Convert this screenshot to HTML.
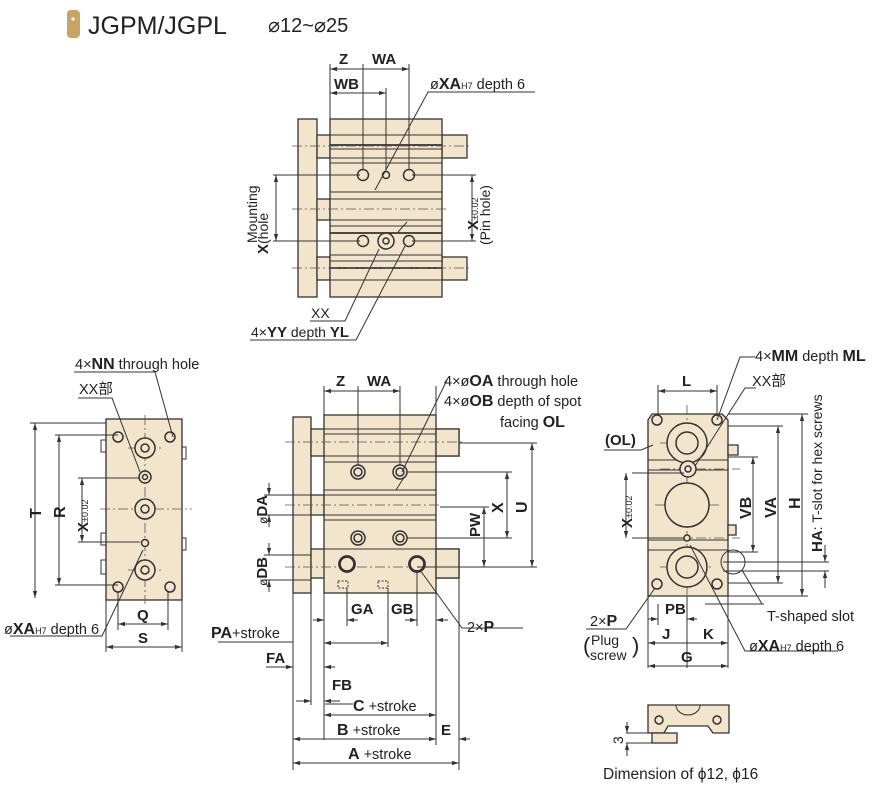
<!DOCTYPE html>
<html><head><meta charset="utf-8"><style>
html,body{margin:0;padding:0;background:#fff}
svg{display:block}
text{font-family:"Liberation Sans","Noto Sans CJK SC",sans-serif;fill:#222}
.b{font-weight:bold}
.f{fill:#f3e4cc;stroke:#333;stroke-width:1.3}
.l{stroke:#333;stroke-width:1;fill:none}
.t{stroke:#333;stroke-width:1.8;fill:none}
.c{stroke:#555;stroke-width:0.8;fill:none;stroke-dasharray:10 3 2 3}
.h{fill:#f3e4cc;stroke:#333;stroke-width:1.5}
</style></head><body>
<svg width="879" height="799" viewBox="0 0 879 799" xmlns="http://www.w3.org/2000/svg">
<defs>
<marker id="a" viewBox="0 0 10 10" refX="10" refY="5" markerWidth="7" markerHeight="7" orient="auto-start-reverse"><path d="M0,2 L10,5 L0,8 z" fill="#333"/></marker>
</defs>
<text x="88" y="34" font-size="25">JGPM/JGPL</text>
<rect x="67" y="10" width="13" height="28" rx="4" fill="#c9a464"/>
<circle cx="73" cy="19" r="1.6" fill="#fff"/>
<text x="268" y="32" font-size="20">⌀12~⌀25</text>

<!-- ============ TOP VIEW ============ -->
<rect class="f" x="298" y="119" width="19" height="178"/>
<rect class="f" x="317" y="135" width="13" height="23"/>
<rect class="f" x="317" y="257" width="13" height="23"/>
<rect class="f" x="317" y="199" width="13" height="21"/>
<rect class="f" x="442" y="135" width="25" height="23"/>
<rect class="f" x="442" y="257" width="25" height="23"/>
<rect class="f" x="330" y="119" width="112" height="178"/>
<g class="l">
<path d="M330 135H442M330 145H442M330 149H442M330 158H442M330 163H442M330 192H442M330 199H442M330 220H442M330 226H442M330 233H442M330 255H442M330 261H442M330 268H442M330 280H442"/>
</g>
<g class="t"><path d="M330 145H442M330 233H442M330 268H442"/></g>
<path class="c" d="M292 146H470M292 209H448M292 268H470"/>
<g class="h"><circle cx="363" cy="175" r="5.5"/><circle cx="409" cy="175" r="5.5"/><circle cx="386" cy="175" r="3.5"/>
<circle cx="363" cy="241" r="5.5"/><circle cx="409" cy="241" r="5.5"/><circle cx="386" cy="241" r="8"/><circle cx="386" cy="241" r="3"/></g>
<g class="l">
<path d="M330 119V64M363 170V64M409 170V64M386 170V88"/>
<path d="M330 69H363M363 69H409" marker-start="url(#a)" marker-end="url(#a)"/>
<path d="M330 93H386" marker-start="url(#a)" marker-end="url(#a)"/>
<path d="M273 175H360M273 241H360M412 175H476M412 241H476"/>
<path d="M276 175V241" marker-start="url(#a)" marker-end="url(#a)"/>
<path d="M472 175V241" marker-start="url(#a)" marker-end="url(#a)"/>
<path d="M375 190L428 92H535" /><path d="M398 232L407 222"/>
<path d="M310 321H345L379 249"/><path d="M250 340H356L405 246"/>
</g>
<text class="b" x="339" y="64" font-size="15">Z</text>
<text class="b" x="372" y="64" font-size="15">WA</text>
<text class="b" x="334" y="89" font-size="15">WB</text>
<text x="430" y="89" font-size="14.5">ø<tspan class="b" font-size="16">XA</tspan><tspan font-size="9">H7</tspan> depth 6</text>
<text transform="translate(268,254) rotate(-90)" font-size="15"><tspan class="b">X</tspan><tspan font-size="14">(hole</tspan></text>
<text transform="translate(257,243) rotate(-90)" font-size="14">Mounting</text>
<text transform="translate(478,230) rotate(-90)" font-size="15"><tspan class="b">X</tspan><tspan font-size="9">±0.02</tspan></text>
<text transform="translate(490,245) rotate(-90)" font-size="14">(Pin hole)</text>
<text x="311" y="318" font-size="14">XX</text>
<text x="251" y="337" font-size="14">4×<tspan class="b" font-size="15">YY</tspan> depth <tspan class="b" font-size="15">YL</tspan></text>

<!-- ============ LEFT VIEW ============ -->
<rect class="f" x="106" y="419" width="76" height="181"/>
<g class="l">
<rect x="101" y="440" width="5" height="12"/><rect x="101" y="533" width="5" height="12"/><rect x="101" y="560" width="5" height="14"/><rect x="182" y="447" width="4" height="12"/><rect x="182" y="538" width="4" height="12"/></g>
<path class="c" d="M145 415V604M100 509H192M128 448H162M128 570H162"/>
<g class="h"><circle cx="118" cy="437" r="5"/><circle cx="170" cy="437" r="5"/><circle cx="118" cy="587" r="5"/><circle cx="170" cy="587" r="5"/>
<circle cx="145" cy="448" r="10"/><circle cx="145" cy="448" r="4"/>
<circle cx="145" cy="477" r="6"/><circle cx="145" cy="477" r="2.5"/>
<circle cx="145" cy="509" r="10"/><circle cx="145" cy="509" r="4"/>
<circle cx="145" cy="543" r="3.5"/>
<circle cx="145" cy="570" r="10"/><circle cx="145" cy="570" r="4"/></g>
<g class="l">
<path d="M30 423H106M55 435H118M78 478H140M78 542H140M55 585H118"/>
<path d="M35 423V598" marker-start="url(#a)" marker-end="url(#a)"/>
<path d="M59 435V585" marker-start="url(#a)" marker-end="url(#a)"/>
<path d="M82 478V542" marker-start="url(#a)" marker-end="url(#a)"/>
<path d="M118 592V630M168 592V630M106 600V652M182 600V652"/>
<path d="M118 624H168" marker-start="url(#a)" marker-end="url(#a)"/>
<path d="M106 647H182" marker-start="url(#a)" marker-end="url(#a)"/>
<path d="M74 372H155L173 437M78 398H112L140 472M10 636H102L143 550"/>
</g>
<text x="75" y="369" font-size="14.5">4×<tspan class="b" font-size="16">NN</tspan> through hole</text>
<text x="79" y="394" font-size="14.5">XX部</text>
<text class="b" transform="translate(41,518) rotate(-90)" font-size="16">T</text>
<text class="b" transform="translate(65,518) rotate(-90)" font-size="16">R</text>
<text transform="translate(88,532) rotate(-90)" font-size="15"><tspan class="b">X</tspan><tspan font-size="9">±0.02</tspan></text>
<text class="b" x="137" y="620" font-size="15">Q</text>
<text class="b" x="138" y="643" font-size="15">S</text>
<text x="4" y="634" font-size="14.5">ø<tspan class="b" font-size="16">XA</tspan><tspan font-size="9">H7</tspan> depth 6</text>

<!-- ============ FRONT VIEW ============ -->
<rect class="f" x="293" y="417" width="18" height="176"/>
<rect class="f" x="311" y="429" width="148" height="27"/>
<rect class="f" x="311" y="549" width="148" height="29"/>
<rect class="f" x="311" y="495" width="13" height="20"/>
<rect class="f" x="324" y="415" width="112" height="178"/>
<rect class="f" x="436" y="429" width="23" height="27"/>
<rect class="f" x="436" y="549" width="23" height="29"/>
<g class="l"><path d="M324 429H436M324 434H436M324 456H436M324 462H436M324 490H436M324 495H436M324 515H436M324 520H436M324 549H436"/></g>
<path class="c" d="M285 442H464M285 505H440M285 567H464"/>
<g class="h"><circle cx="358" cy="472" r="7"/><circle cx="358" cy="472" r="4"/><circle cx="400" cy="472" r="7"/><circle cx="400" cy="472" r="4"/>
<circle cx="358" cy="538" r="7"/><circle cx="358" cy="538" r="4"/><circle cx="400" cy="538" r="7"/><circle cx="400" cy="538" r="4"/></g>
<circle cx="347" cy="564" r="7.5" fill="#f3e4cc" stroke="#333" stroke-width="2.8"/>
<circle cx="417" cy="564" r="7.5" fill="#f3e4cc" stroke="#333" stroke-width="2.8"/>
<g class="l" stroke-dasharray="2 1.5"><path d="M338 581h10v7h-10zM378 581h10v7h-10z"/></g>
<g class="l">
<path d="M324 415V386M358 465V386M400 465V386M436 415V386"/>
<path d="M324 391H358M358 391H400" marker-start="url(#a)" marker-end="url(#a)"/>
<path d="M407 472H512M407 538H512M459 443H537M459 567H537M417 567H489M440 507H489"/>
<path d="M507 472V538" marker-start="url(#a)" marker-end="url(#a)"/>
<path d="M532 443V567" marker-start="url(#a)" marker-end="url(#a)"/>
<path d="M484 507V567" marker-start="url(#a)" marker-end="url(#a)"/>
<path d="M264 495H324M264 515H311M264 555H311M264 580H311"/>
<path d="M269 483V495" marker-end="url(#a)"/><path d="M269 527V515" marker-end="url(#a)"/>
<path d="M269 543V555" marker-end="url(#a)"/><path d="M269 592V580" marker-end="url(#a)"/>
<path d="M447 380L402 472M396 490L403 479"/>
<path d="M523 628H462L420 570"/>
<path d="M347 588V626M388 588V647M417 572V626M293 593V770M311 593V705M324 593V740M436 593V745M459 578V770"/>
<path d="M313 620H324" marker-end="url(#a)"/><path d="M358 620H347" marker-end="url(#a)"/>
<path d="M405 620H417" marker-end="url(#a)"/><path d="M448 620H436" marker-end="url(#a)"/>
<path d="M218 642H293"/><path d="M324 643H388" marker-start="url(#a)" marker-end="url(#a)"/>
<path d="M266 667H293" marker-end="url(#a)"/><path d="M335 667H324" marker-end="url(#a)"/>
<path d="M296 701H311" marker-end="url(#a)"/><path d="M340 701H324" marker-end="url(#a)"/><path d="M325 704H353"/>
<path d="M324 715H436" marker-start="url(#a)" marker-end="url(#a)"/>
<path d="M293 739H436" marker-start="url(#a)" marker-end="url(#a)"/>
<path d="M470 739H459" marker-end="url(#a)"/>
<path d="M293 763H459" marker-start="url(#a)" marker-end="url(#a)"/>
</g>
<text class="b" x="336" y="386" font-size="15">Z</text>
<text class="b" x="367" y="386" font-size="15">WA</text>
<text x="444" y="386" font-size="14.5">4×ø<tspan class="b" font-size="16">OA</tspan> through hole</text>
<text x="444" y="406" font-size="14.5">4×ø<tspan class="b" font-size="16">OB</tspan> depth of spot</text>
<text x="500" y="427" font-size="14.5">facing <tspan class="b" font-size="16">OL</tspan></text>
<text class="b" transform="translate(503,513) rotate(-90)" font-size="16">X</text>
<text class="b" transform="translate(527,513) rotate(-90)" font-size="16">U</text>
<text class="b" transform="translate(480,537) rotate(-90)" font-size="15">PW</text>
<text class="b" transform="translate(267,524) rotate(-90)" font-size="15"><tspan font-weight="normal" font-size="12">ø</tspan>DA</text>
<text class="b" transform="translate(267,586) rotate(-90)" font-size="15"><tspan font-weight="normal" font-size="12">ø</tspan>DB</text>
<text class="b" x="351" y="614" font-size="15">GA</text>
<text class="b" x="391" y="614" font-size="15">GB</text>
<text x="467" y="632" font-size="14.5">2×<tspan class="b" font-size="16">P</tspan></text>
<text x="211" y="638" font-size="14.5"><tspan class="b" font-size="16">PA</tspan>+stroke</text>
<text class="b" x="266" y="663" font-size="15">FA</text>
<text class="b" x="332" y="690" font-size="15">FB</text>
<text x="353" y="711" font-size="14.5"><tspan class="b" font-size="16">C</tspan> +stroke</text>
<text x="337" y="735" font-size="14.5"><tspan class="b" font-size="16">B</tspan> +stroke</text>
<text class="b" x="441" y="735" font-size="15">E</text>
<text x="348" y="759" font-size="14.5"><tspan class="b" font-size="16">A</tspan> +stroke</text>

<!-- ============ RIGHT VIEW ============ -->
<path class="f" d="M652 414H722L728 420V596H648V420Z"/>
<path class="f" d="M728 445h10v10h-10zM728 525h8v10h-8z"/>
<circle cx="733" cy="562" r="12" class="l"/>
<g class="l"><path d="M648 460H728M648 470H728M648 540H728M648 550H728"/></g>
<path class="c" d="M687 405V600M660 443H714M655 505H722M660 567H714M660 469H740M660 538H740"/>
<g class="h"><circle cx="687" cy="443" r="20"/><circle cx="687" cy="443" r="11"/>
<circle cx="687" cy="505" r="22"/>
<circle cx="687" cy="567" r="20"/><circle cx="687" cy="567" r="11"/>
<circle cx="688" cy="469" r="8"/><circle cx="688" cy="469" r="3"/><circle cx="687" cy="538" r="3"/>
<circle cx="657" cy="420" r="5"/><circle cx="717" cy="420" r="5"/><circle cx="657" cy="584" r="5"/><circle cx="717" cy="584" r="5"/></g>
<g class="l">
<path d="M658 415V385M717 415V385"/>
<path d="M658 391H717" marker-start="url(#a)" marker-end="url(#a)"/>
<path d="M728 414H808M728 426H783M728 457H758M728 552H758M728 583H783M728 596H808M723 571H829M723 562H829"/>
<path d="M802 414V596" marker-start="url(#a)" marker-end="url(#a)"/>
<path d="M778 426V583" marker-start="url(#a)" marker-end="url(#a)"/>
<path d="M753 457V552" marker-start="url(#a)" marker-end="url(#a)"/>
<path d="M825 545V562" marker-end="url(#a)"/><path d="M825 588V571" marker-end="url(#a)"/>
<path d="M632 473H684M632 538H684"/>
<path d="M626 473V538" marker-start="url(#a)" marker-end="url(#a)"/>
<path d="M604 450H641L653 445"/>
<path d="M755 357H740L717 420M756 388H745L695 466"/>
<path d="M764 604H705M742 570L762 604"/>
<path d="M838 651H745L690 545"/>
<path d="M586 629H626L655 588"/>
<path d="M648 596V668M687 596V668M728 596V668"/>
<path d="M648 619H658" marker-end="url(#a)"/><path d="M697 619H687" marker-end="url(#a)"/><path d="M658 604V625"/>
<path d="M648 643H687M687 643H728" marker-start="url(#a)" marker-end="url(#a)"/>
<path d="M648 666H728" marker-start="url(#a)" marker-end="url(#a)"/>
</g>
<text class="b" x="682" y="386" font-size="15">L</text>
<text x="755" y="361" font-size="14.5">4×<tspan class="b" font-size="16">MM</tspan> depth <tspan class="b" font-size="16">ML</tspan></text>
<text x="752" y="386" font-size="14.5">XX部</text>
<text class="b" x="605" y="445" font-size="15">(OL)</text>
<text transform="translate(632,528) rotate(-90)" font-size="15"><tspan class="b">X</tspan><tspan font-size="9">±0.02</tspan></text>
<text class="b" transform="translate(751,519) rotate(-90)" font-size="16">VB</text>
<text class="b" transform="translate(776,518) rotate(-90)" font-size="16">VA</text>
<text class="b" transform="translate(800,509) rotate(-90)" font-size="16">H</text>
<text transform="translate(822,552) rotate(-90)" font-size="14"><tspan class="b" font-size="15">HA</tspan>: T-slot for hex screws</text>
<text x="767" y="621" font-size="14.5">T-shaped slot</text>
<text class="b" x="665" y="614" font-size="15">PB</text>
<text class="b" x="662" y="639" font-size="15">J</text>
<text class="b" x="703" y="639" font-size="15">K</text>
<text class="b" x="681" y="662" font-size="15">G</text>
<text x="590" y="626" font-size="14.5">2×<tspan class="b" font-size="16">P</tspan></text>
<text x="583" y="653" font-size="22" font-weight="300">(</text>
<text x="591" y="645" font-size="14">Plug</text>
<text x="590" y="660" font-size="14">screw</text>
<text x="632" y="653" font-size="22" font-weight="300">)</text>
<text x="749" y="651" font-size="14.5">ø<tspan class="b" font-size="16">XA</tspan><tspan font-size="9">H7</tspan> depth 6</text>

<!-- small bottom view -->
<path class="f" d="M648 705H729V733H713L708 726H668L664 733H648Z"/>
<path class="l" d="M676 705A12 10 0 0 0 700 705"/>
<g class="h"><circle cx="659" cy="720" r="4"/><circle cx="717" cy="720" r="4"/></g>
<rect class="f" x="652" y="733" width="25" height="10"/>
<g class="l"><path d="M626 733H652M626 743H652"/>
<path d="M627 722V733" marker-end="url(#a)"/><path d="M627 756V743" marker-end="url(#a)"/></g>
<text transform="translate(623,744) rotate(-90)" font-size="14">3</text>
<text x="603" y="779" font-size="15.5">Dimension of ϕ12, ϕ16</text>
</svg>
</body></html>
